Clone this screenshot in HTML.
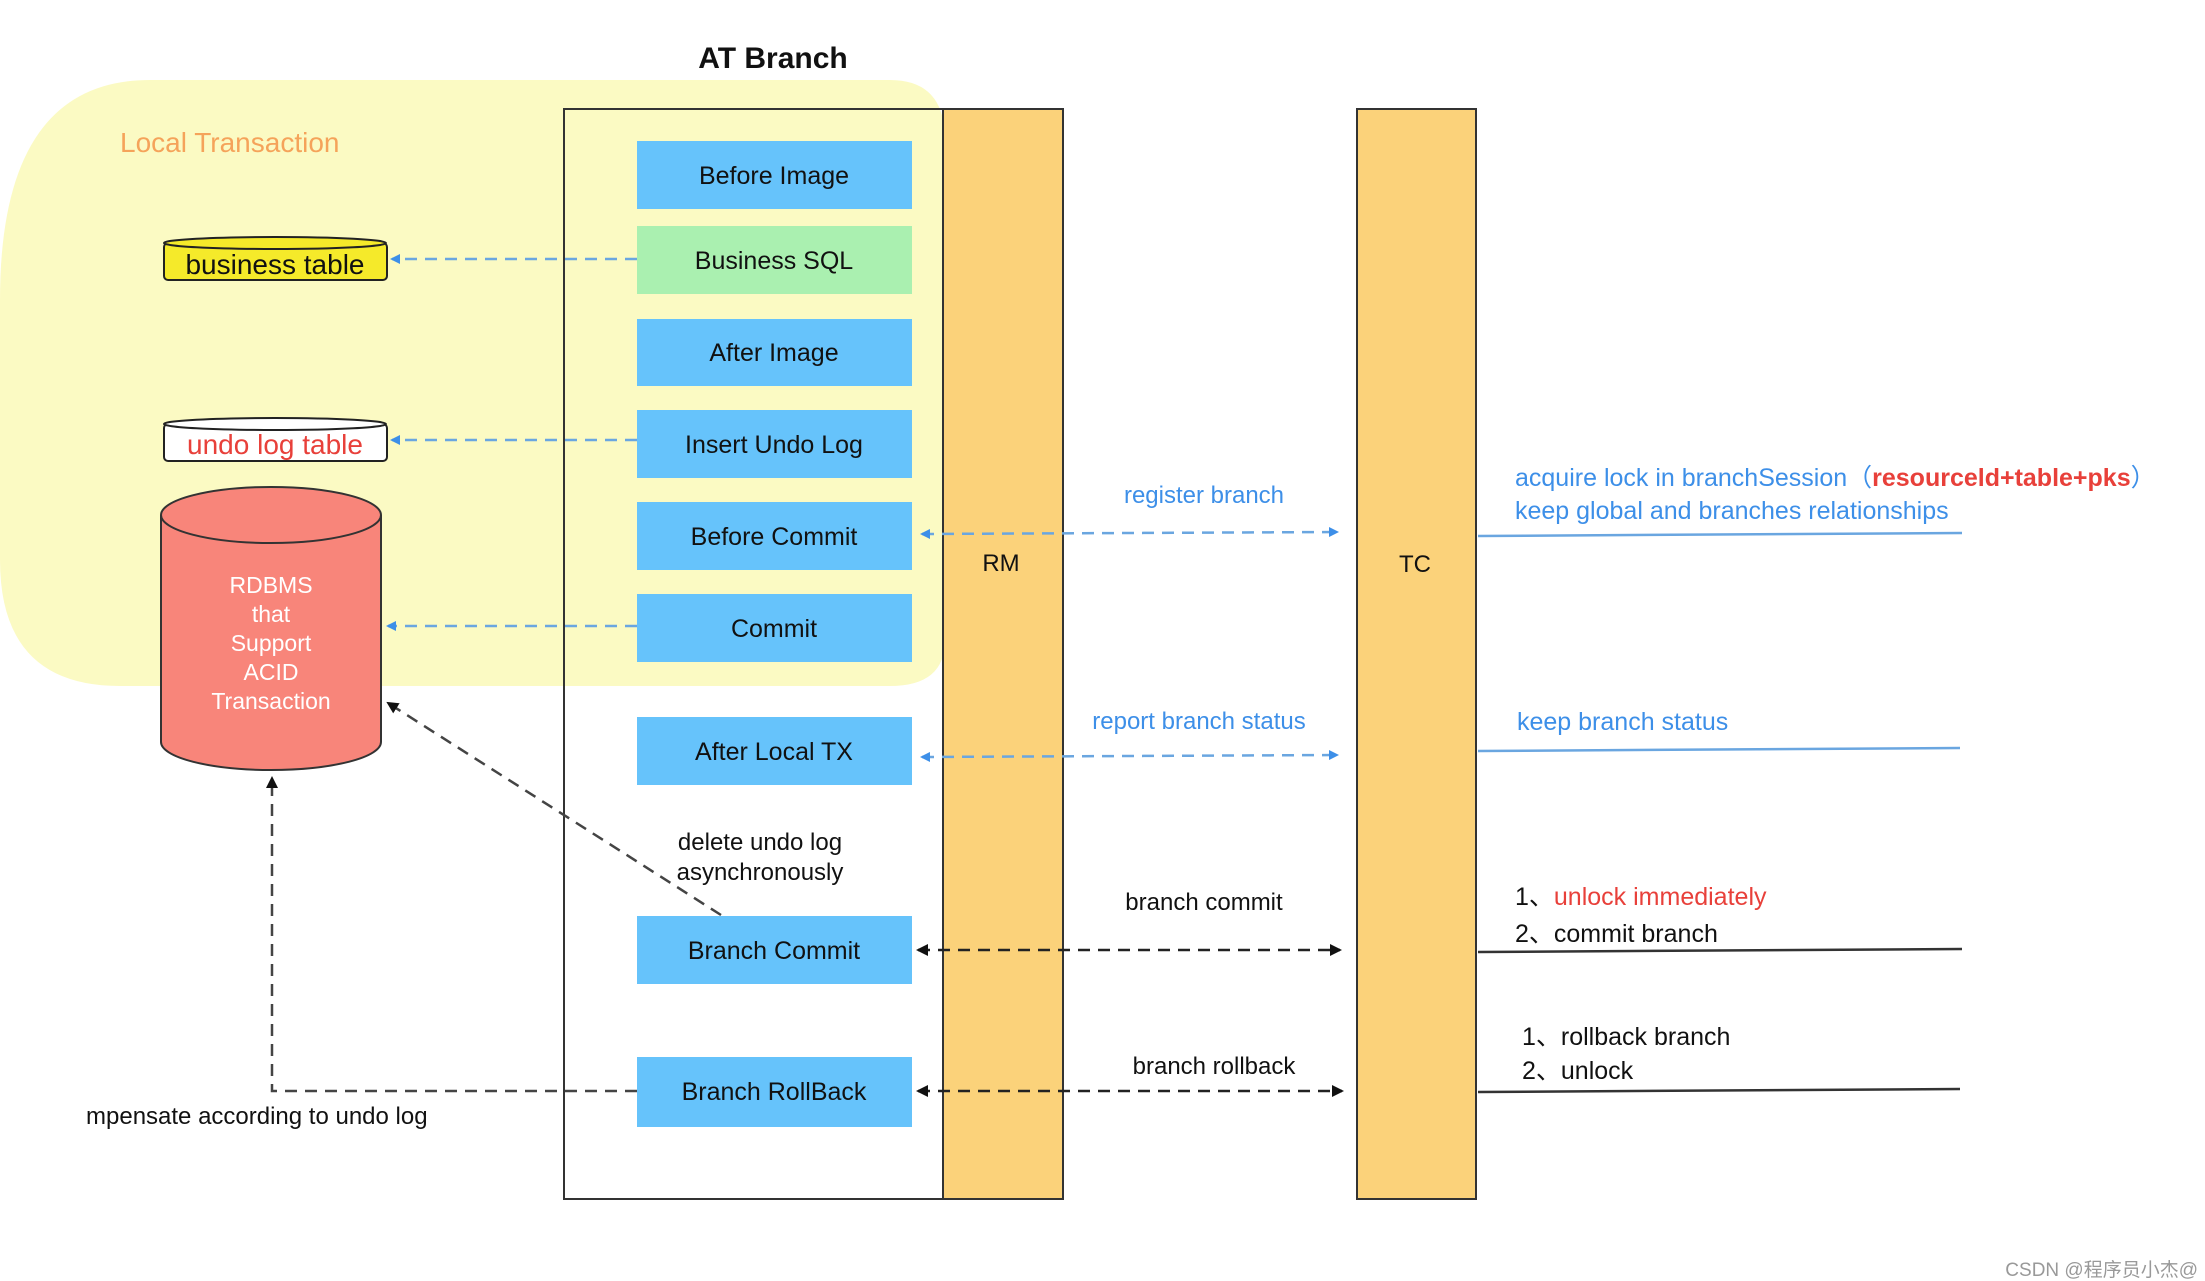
<!DOCTYPE html>
<html><head><meta charset="utf-8"><style>
html,body{margin:0;padding:0;background:#fff}
svg{display:block}
text{font-family:"Liberation Sans",Arial,sans-serif}
</style></head><body>
<svg width="2205" height="1281" viewBox="0 0 2205 1281" xmlns="http://www.w3.org/2000/svg">
<defs>
<marker id="ab" markerWidth="10" markerHeight="10" refX="8" refY="5" orient="auto-start-reverse" markerUnits="userSpaceOnUse"><path d="M0,0 L10,5 L0,10 z" fill="#3d8fe8"/></marker>
<marker id="ak" markerWidth="12" markerHeight="12" refX="10" refY="6" orient="auto-start-reverse" markerUnits="userSpaceOnUse"><path d="M0,0 L12,6 L0,12 z" fill="#111"/></marker>
</defs>
<path d="M150,80 L890,80 Q945,80 945,140 L945,640 Q945,686 890,686 L120,686 Q0,686 0,560 L0,300 Q0,80 150,80 z" fill="#fbfac0" opacity="0.95"/>
<text x="120" y="152" font-size="28" fill="#f5a35a">Local Transaction</text>
<text x="773" y="68" font-size="30" font-weight="bold" text-anchor="middle" fill="#111">AT Branch</text>
<rect x="564" y="109" width="379" height="1090" fill="none" stroke="#333" stroke-width="2"/>
<rect x="943" y="109" width="120" height="1090" fill="#fbd27a" stroke="#333" stroke-width="2"/>
<text x="1001" y="571" font-size="24" text-anchor="middle" fill="#111">RM</text>
<rect x="1357" y="109" width="119" height="1090" fill="#fbd27a" stroke="#333" stroke-width="2"/>
<text x="1415" y="572" font-size="24" text-anchor="middle" fill="#111">TC</text>
<g font-size="25" text-anchor="middle" fill="#111">
<rect x="637" y="141" width="275" height="68" fill="#66c3fb"/><text x="774" y="184">Before Image</text>
<rect x="637" y="226" width="275" height="68" fill="#aaf0b0"/><text x="774" y="269">Business SQL</text>
<rect x="637" y="319" width="275" height="67" fill="#66c3fb"/><text x="774" y="361">After Image</text>
<rect x="637" y="410" width="275" height="68" fill="#66c3fb"/><text x="774" y="453">Insert Undo Log</text>
<rect x="637" y="502" width="275" height="68" fill="#66c3fb"/><text x="774" y="545">Before Commit</text>
<rect x="637" y="594" width="275" height="68" fill="#66c3fb"/><text x="774" y="637">Commit</text>
<rect x="637" y="717" width="275" height="68" fill="#66c3fb"/><text x="774" y="760">After Local TX</text>
<rect x="637" y="916" width="275" height="68" fill="#66c3fb"/><text x="774" y="959">Branch Commit</text>
<rect x="637" y="1057" width="275" height="70" fill="#66c3fb"/><text x="774" y="1100">Branch RollBack</text>
</g>
<rect x="164" y="243" width="223" height="37" fill="#f5ea2a" stroke="#222" stroke-width="2" rx="4"/>
<ellipse cx="275" cy="243" rx="111" ry="6" fill="#f5ea2a" stroke="#222" stroke-width="2"/>
<text x="275" y="274" font-size="28" text-anchor="middle" fill="#111">business table</text>
<rect x="164" y="424" width="223" height="37" fill="#fff" stroke="#222" stroke-width="2" rx="4"/>
<ellipse cx="275" cy="424" rx="111" ry="6" fill="#fff" stroke="#222" stroke-width="2"/>
<text x="275" y="454" font-size="28" text-anchor="middle" fill="#e8403a">undo log table</text>
<path d="M161,515 L161,742 A110,28 0 0 0 381,742 L381,515" fill="#f8857a" stroke="#333" stroke-width="2"/>
<ellipse cx="271" cy="515" rx="110" ry="28" fill="#f8857a" stroke="#333" stroke-width="2"/>
<g font-size="23" text-anchor="middle" fill="#fff">
<text x="271" y="593">RDBMS</text><text x="271" y="622">that</text><text x="271" y="651">Support</text><text x="271" y="680">ACID</text><text x="271" y="709">Transaction</text>
</g>
<g stroke="#6aa6e0" stroke-width="2.5" stroke-dasharray="12,8" fill="none">
<line x1="637" y1="259" x2="392" y2="259" marker-end="url(#ab)"/>
<line x1="637" y1="440" x2="392" y2="440" marker-end="url(#ab)"/>
<line x1="637" y1="626" x2="388" y2="626" marker-end="url(#ab)"/>
</g>
<g stroke="#444" stroke-width="2.5" stroke-dasharray="12,8" fill="none">
<line x1="721" y1="915" x2="388" y2="703" marker-end="url(#ak)"/>
<polyline points="637,1091 272,1091 272,778" marker-end="url(#ak)"/>
</g>
<g font-size="24" text-anchor="middle" fill="#111">
<text x="760" y="850">delete undo log</text><text x="760" y="880">asynchronously</text>
</g>
<text x="86" y="1124" font-size="24" fill="#111">mpensate according to undo log</text>
<g stroke="#6aa6e0" stroke-width="2.5" stroke-dasharray="12,8" fill="none">
<line x1="922" y1="534" x2="1337" y2="532" marker-start="url(#ab)" marker-end="url(#ab)"/>
<line x1="922" y1="757" x2="1337" y2="755" marker-start="url(#ab)" marker-end="url(#ab)"/>
</g>
<g stroke="#222" stroke-width="2.5" stroke-dasharray="12,8" fill="none">
<line x1="918" y1="950" x2="1340" y2="950" marker-start="url(#ak)" marker-end="url(#ak)"/>
<line x1="918" y1="1091" x2="1342" y2="1091" marker-start="url(#ak)" marker-end="url(#ak)"/>
</g>
<g font-size="24" text-anchor="middle">
<text x="1204" y="503" fill="#3d8fe8">register branch</text>
<text x="1199" y="729" fill="#3d8fe8">report branch status</text>
<text x="1204" y="910" fill="#111">branch commit</text>
<text x="1214" y="1074" fill="#111">branch rollback</text>
</g>
<g font-size="25">
<text x="1515" y="486" fill="#3d8fe8">acquire lock in branchSession（<tspan fill="#e8403a" font-weight="bold">resourceld+table+pks</tspan>）</text>
<text x="1515" y="519" fill="#3d8fe8">keep global and branches relationships</text>
<text x="1517" y="730" fill="#3d8fe8">keep branch status</text>
<text x="1515" y="905" fill="#111">1、<tspan fill="#e8403a">unlock immediately</tspan></text>
<text x="1515" y="942" fill="#111">2、commit branch</text>
<text x="1522" y="1045" fill="#111">1、rollback branch</text>
<text x="1522" y="1079" fill="#111">2、unlock</text>
</g>
<g stroke-width="2.5">
<line x1="1478" y1="536" x2="1962" y2="533" stroke="#6aa6e0"/>
<line x1="1478" y1="751" x2="1960" y2="748" stroke="#6aa6e0"/>
<line x1="1478" y1="952" x2="1962" y2="949" stroke="#333"/>
<line x1="1478" y1="1092" x2="1960" y2="1089" stroke="#333"/>
</g>
<text x="2198" y="1276" font-size="19" text-anchor="end" fill="#999" font-family="Liberation Sans, Noto Sans CJK SC, sans-serif">CSDN @程序员小杰@</text>
</svg>
</body></html>
